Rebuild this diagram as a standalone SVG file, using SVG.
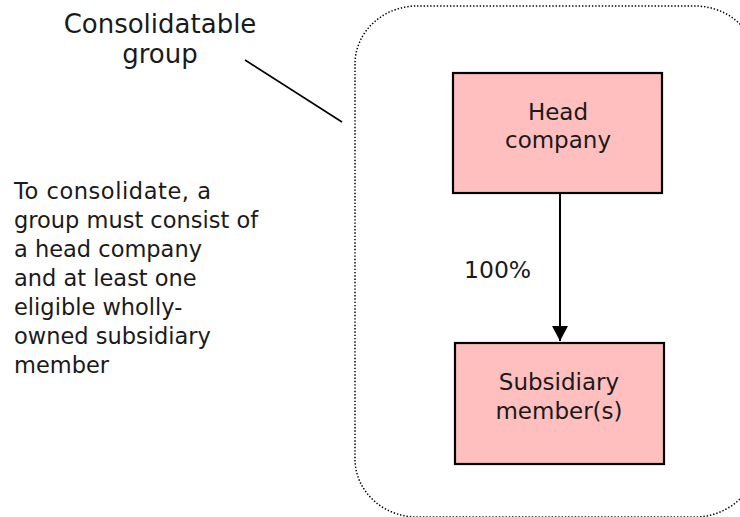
<svg xmlns="http://www.w3.org/2000/svg" width="740" height="517" viewBox="0 0 740 517">
<style>
text { font-family: "DejaVu Sans", "Liberation Sans", sans-serif; fill: #1a1a1a; }
.box { fill: #FFBFBF; stroke: #000; stroke-width: 2.2; }
.lbl { font-size: 23px; text-anchor: middle; }
.para { font-size: 22.5px; }
</style>
<defs>
<marker id="arr" markerWidth="16" markerHeight="16" refX="15" refY="8" orient="auto" markerUnits="userSpaceOnUse">
<path d="M0,0 L15,8 L0,16 Z" fill="#000"/>
</marker>
</defs>
<rect width="740" height="517" fill="#fff"/>
<g id="consolidatable-group">
<rect x="355" y="6" width="402" height="511" rx="62" ry="58" fill="none" stroke="#000" stroke-width="1.5" stroke-dasharray="1.4 1.9"/>
</g>
<g id="title">
<text x="160" y="33" font-size="26" text-anchor="middle">Consolidatable</text>
<text x="160" y="63" font-size="26" text-anchor="middle">group</text>
</g>
<g id="description" class="para">
<text x="14" y="199" textLength="197" lengthAdjust="spacing">To consolidate, a</text>
<text x="14" y="228">group must consist of</text>
<text x="14" y="257">a head company</text>
<text x="14" y="286">and at least one</text>
<text x="14" y="315">eligible wholly-</text>
<text x="14" y="344">owned subsidiary</text>
<text x="14" y="373">member</text>
</g>
<g id="head-company">
<rect class="box" x="453" y="73" width="209" height="120"/>
<text class="lbl" x="558" y="120">Head</text>
<text class="lbl" x="558" y="148">company</text>
</g>
<g id="subsidiary-members">
<rect class="box" x="455" y="343" width="209" height="121"/>
<text class="lbl" x="559" y="390">Subsidiary</text>
<text class="lbl" x="559" y="419">member(s)</text>
</g>
<g id="connectors">
<line x1="245" y1="60" x2="342" y2="122" stroke="#000" stroke-width="1.6"/>
<line x1="560" y1="194" x2="560" y2="341" stroke="#000" stroke-width="2" marker-end="url(#arr)"/>
<text x="464" y="278" font-size="23.5">100%</text>
</g>
</svg>
